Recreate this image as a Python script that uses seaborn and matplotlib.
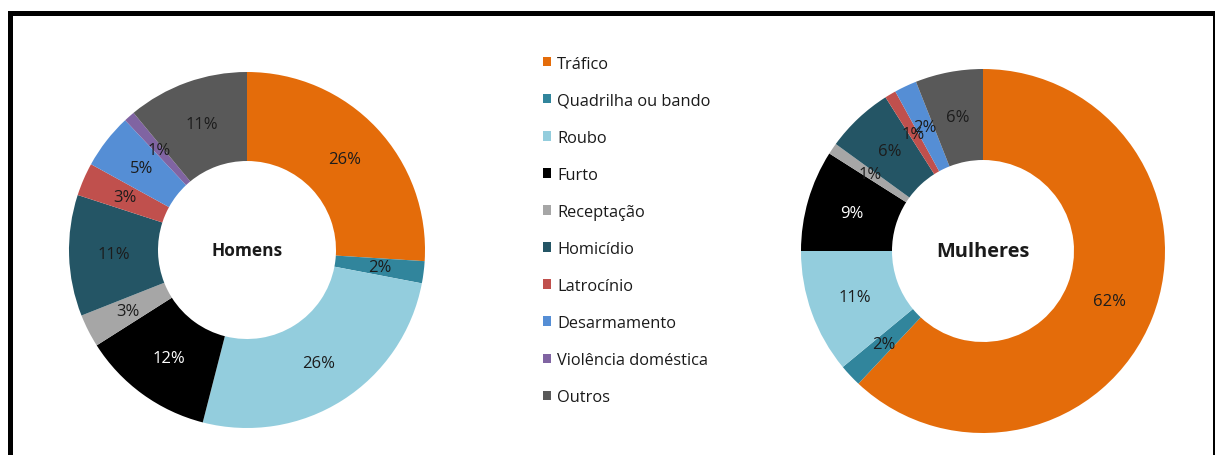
import matplotlib
matplotlib.use("Agg")
import matplotlib.pyplot as plt
from matplotlib.patches import Rectangle
import numpy as np
import seaborn as sns

# Crime categories and share (%) of inmates by sex
categorias = ["Tráfico", "Quadrilha ou bando", "Roubo", "Furto", "Receptação",
              "Homicídio", "Latrocínio", "Desarmamento", "Violência doméstica", "Outros"]
homens = [26, 2, 26, 12, 3, 11, 3, 5, 1, 11]
mulheres = [62, 2, 11, 9, 1, 6, 1, 2, 0, 6]
cores = ["#E46C0A", "#31859C", "#93CDDD", "#000000", "#A6A6A6",
         "#245565", "#C0504D", "#558ED5", "#8064A2", "#595959"]

sns.set_theme(style="white")
plt.rcParams["font.family"] = ["Open Sans", "DejaVu Sans"]

W, H = 1215, 456
fig = plt.figure(figsize=(W / 100, H / 100), dpi=100)
fig.patch.set_facecolor("white")

palette = sns.color_palette(cores)


def donut(cx, cy, r, valores, titulo, titulo_size):
    ax = fig.add_axes([(cx - r) / W, (H - cy - r) / H, 2 * r / W, 2 * r / H])
    wedges, _ = ax.pie(valores, colors=palette, startangle=90, counterclock=False,
                       radius=1.0, wedgeprops=dict(width=0.5, linewidth=0),
                       frame=False)
    ax.set_xlim(-1, 1)
    ax.set_ylim(-1, 1)
    ax.axis("off")
    for w, v, cat in zip(wedges, valores, categorias):
        if v == 0:
            continue
        ang = np.deg2rad((w.theta1 + w.theta2) / 2)
        x, y = 0.75 * np.cos(ang), 0.75 * np.sin(ang)
        cor = "white" if cat == "Furto" else "#1c1c1c"
        ax.text(x, y, f"{v}%", ha="center", va="center", fontsize=12, color=cor)
    ax.text(0, 0, titulo, ha="center", va="center", fontsize=titulo_size,
            fontweight="bold", color="#1a1a1a")
    return wedges


wedges_h = donut(247, 251, 178, homens, "Homens", 12.5)
donut(983, 252, 182, mulheres, "Mulheres", 14.4)

fig.legend(wedges_h, categorias, loc="upper left",
           bbox_to_anchor=(536 / W, 1 - 50 / H), frameon=False,
           fontsize=11.8, handlelength=0.5, handleheight=0.5,
           handletextpad=0.4, labelspacing=1.285, borderaxespad=0,
           labelcolor="#1a1a1a")

# Outer frame
fig.patches.append(Rectangle((10 / W, -20 / H), (1214.5 - 10) / W, (H - 13.5 + 20) / H,
                             transform=fig.transFigure, fill=False,
                             edgecolor="black", linewidth=3.6, zorder=10))

fig.savefig("out.png", dpi=100, facecolor="white")
